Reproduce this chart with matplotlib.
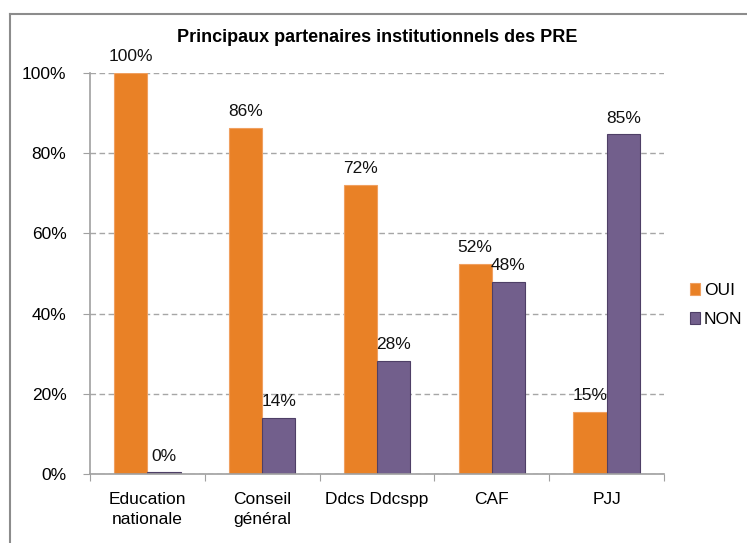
import numpy as np
import matplotlib.pyplot as plt
from matplotlib.lines import Line2D

plt.rcParams['font.family'] = ['Liberation Sans', 'DejaVu Sans']

# data
categories = ["Education\nnationale", "Conseil\ngénéral", "Ddcs Ddcspp", "CAF", "PJJ"]
oui = [100, 86.4, 72, 52.3, 15.4]
non = [0.4, 14.0, 28.3, 47.9, 84.7]
series_names = ["OUI", "NON"]
yticks = [0, 20, 40, 60, 80, 100]

orange = "#E98126"
purple = "#725F8C"

fig = plt.figure(figsize=(7.47, 5.43), dpi=100)
ax = fig.add_axes([90/747, 1 - 474/543, (664-90)/747, (474-73)/543])

x = np.arange(len(categories))
w = 0.29
b1 = ax.bar(x - w/2, oui, w, color=orange, edgecolor="#F0A060", linewidth=0.8, label=series_names[0])
b2 = ax.bar(x + w/2, non, w, color=purple, edgecolor="#4E3F66", linewidth=0.8, label=series_names[1])

for bars, vals in ((b1, oui), (b2, non)):
    for r, v in zip(bars, vals):
        ax.text(r.get_x() + r.get_width()/2, v + 2.2, "%d%%" % round(v),
                ha="center", va="bottom", fontsize=12.5, color="#111111")

ax.set_xlim(-0.5, len(categories) - 0.5)
ax.set_ylim(0, 100)
ax.set_yticks(yticks)
ax.set_yticklabels(["%d%%" % t for t in yticks], fontsize=12.5)
ax.yaxis.grid(True, linestyle=(0, (4, 2.5)), color="#A6A6A6", linewidth=1)
ax.set_axisbelow(True)

# category labels between boundary ticks
ax.set_xticks(np.arange(len(categories) + 1) - 0.5)
ax.set_xticklabels([])
ax.set_xticks(x, minor=True)
ax.set_xticklabels(categories, minor=True, fontsize=12.5, linespacing=1.45)
ax.tick_params(axis="x", which="minor", length=0, pad=13)
ax.tick_params(axis="x", which="major", length=5, color="#A0A0A0", direction="out")
ax.tick_params(axis="y", length=5, color="#A0A0A0", pad=12)

for s in ["top", "right"]:
    ax.spines[s].set_visible(False)
for s in ["left", "bottom"]:
    ax.spines[s].set_color("#A0A0A0")
    ax.spines[s].set_linewidth(1.2)

fig.text(377/747, 1 - 37/543, "Principaux partenaires institutionnels des PRE",
         ha="center", va="center", fontsize=13, fontweight="bold")

ax.legend(loc="center left", bbox_to_anchor=(690/747, 1 - 305/543),
          bbox_transform=fig.transFigure, frameon=False, fontsize=12.5,
          borderpad=0, borderaxespad=0,
          handlelength=0.6, handleheight=0.7, handletextpad=0.2, labelspacing=0.75)

# outer chart border
fig.add_artist(Line2D([10/747, 10/747], [0, 1 - 14/543], transform=fig.transFigure, color="#8C8C8C", lw=1.5))
fig.add_artist(Line2D([10/747, 1], [1 - 14/543, 1 - 14/543], transform=fig.transFigure, color="#8C8C8C", lw=1.5))

fig.savefig("out.png", dpi=100)
